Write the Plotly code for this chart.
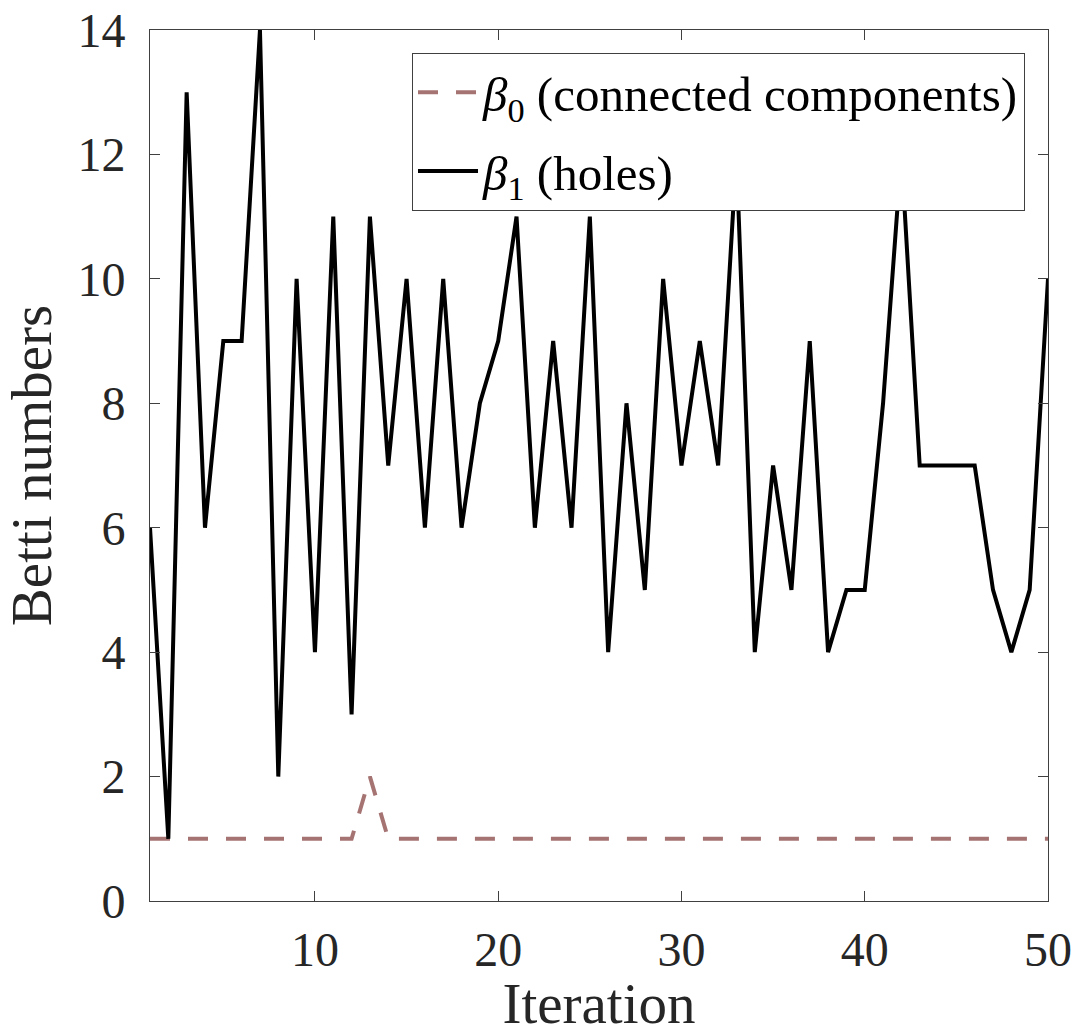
import plotly.graph_objects as go

iterations = list(range(1, 51))
beta0 = [1] * 12 + [2] + [1] * 37
beta1 = [6, 1, 13, 6, 9, 9, 14, 2, 10, 4,
         11, 3, 11, 7, 10, 6, 10, 6, 8, 9,
         11, 6, 9, 6, 11, 4, 8, 5, 10, 7,
         9, 7, 12, 4, 7, 5, 9, 4, 5, 5,
         8, 12, 7, 7, 7, 7, 5, 4, 5, 10]

x_ticks = [10, 20, 30, 40, 50]
y_ticks = [0, 2, 4, 6, 8, 10, 12, 14]

FONT = "Liberation Serif"
TXT = "#262626"

fig = go.Figure()
fig.add_trace(go.Scatter(
    x=iterations, y=beta0, mode="lines",
    name="<i>β</i><sub>0</sub> (connected components)",
    line=dict(color="#A67373", width=4, dash="20px,18px"),
    legendgroup="b0",
))
fig.add_trace(go.Scatter(
    x=iterations, y=beta1, mode="lines",
    name="<i>β</i><sub>1</sub> (holes)",
    line=dict(color="#000000", width=4),
    legendgroup="b1",
))

axis_common = dict(
    showgrid=False, zeroline=False, showline=True, linecolor="#404040",
    linewidth=1, mirror="ticks", ticks="inside", ticklen=10, tickwidth=1,
    tickcolor="#404040", automargin=False,
    tickfont=dict(family=FONT, size=48, color=TXT),
)

fig.update_layout(
    width=1092, height=1035,
    margin=dict(l=150, r=44, t=30, b=134),
    plot_bgcolor="white", paper_bgcolor="white",
    font=dict(family=FONT, color=TXT),
    xaxis=dict(range=[1, 50], tickvals=x_ticks, ticklabelstandoff=6,
               title=dict(text="Iteration", font=dict(family=FONT, size=57, color=TXT), standoff=20),
               **axis_common),
    yaxis=dict(range=[0, 14], tickvals=y_ticks, ticklabelstandoff=14,
               title=dict(text="Betti numbers", font=dict(family=FONT, size=57, color=TXT), standoff=14),
               **axis_common),
    legend=dict(
        x=0.9744, y=0.9736, xanchor="right", yanchor="top",
        bgcolor="white", bordercolor="#404040", borderwidth=1,
        font=dict(family=FONT, size=49, color="#000000"),
        traceorder="grouped", tracegroupgap=12, itemwidth=60,
    ),
    showlegend=True,
)

fig.write_html("out.html")
